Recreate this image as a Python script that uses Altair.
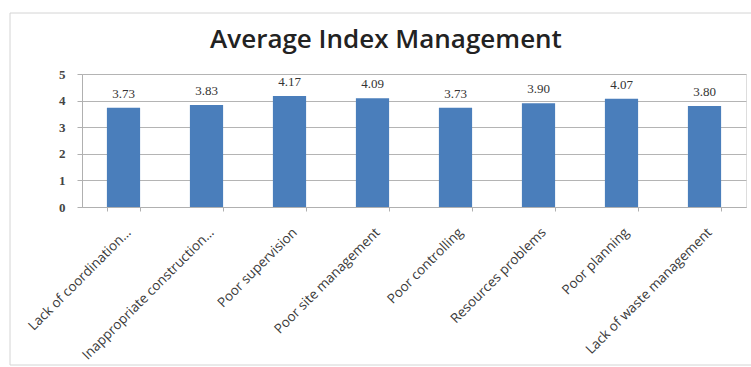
import altair as alt
import pandas as pd

categories = [
    "Lack of coordination…",
    "Inappropriate construction…",
    "Poor supervision",
    "Poor site management",
    "Poor controlling",
    "Resources problems",
    "Poor planning",
    "Lack of waste management",
]
values = [3.73, 3.83, 4.17, 4.09, 3.73, 3.90, 4.07, 3.80]
y_ticks = [0, 1, 2, 3, 4, 5]

df = pd.DataFrame({"cat": categories, "val": values})
df["lbl"] = [f"{v:.2f}" for v in values]

x_enc = alt.X(
    "cat:N",
    sort=categories,
    title=None,
    scale=alt.Scale(paddingInner=0.6, paddingOuter=0.3),
    axis=alt.Axis(
        labelAngle=-45,
        labelFont="Open Sans",
        labelFontSize=13.5,
        labelColor="#3a3a3a",
        labelLimit=260,
        tickBand="extent",
        domainColor="#b0b0b0",
        tickColor="#b0b0b0",
        tickSize=4,
        labelPadding=14,
    ),
)
y_enc = alt.Y(
    "val:Q",
    title=None,
    scale=alt.Scale(domain=[0, 5]),
    axis=alt.Axis(
        values=y_ticks,
        labelOverlap=False,
        labelFont="Liberation Serif",
        labelFontSize=13,
        labelFontWeight="bold",
        labelColor="#444444",
        domainColor="#b0b0b0",
        tickColor="#b0b0b0",
        gridColor="#b4b4b4",
        tickSize=5,
        labelPadding=12,
    ),
)

base = alt.Chart(df).encode(x=x_enc, y=y_enc)
bars = base.mark_bar(color="#4a7ebb")
text = base.mark_text(
    dy=-14, font="Liberation Serif", fontSize=13, color="#333333"
).encode(text="lbl:N")

frame = (
    alt.Chart(pd.DataFrame({"f": [0]}))
    .mark_rect(fill=None, stroke="#d4d4d4", strokeWidth=1)
    .encode(
        x=alt.value(-72),
        x2=alt.value(680),
        y=alt.value(-61),
        y2=alt.value(291),
    )
)

chart = (
    alt.layer(frame, bars, text)
    .properties(
        width=664,
        height=133,
        autosize=alt.AutoSizeParams(type="none"),
        padding={"left": 82, "top": 74, "right": 5, "bottom": 160},
        title=alt.Title(
            "Average Index Management",
            font="Open Sans",
            fontSize=26,
            fontWeight=600,
            color="#222222",
            offset=-40,
            dx=-28,
        ),
    )
    .configure_view(strokeOpacity=0)
    .configure(background="white")
)

chart.save("out.html", embed_options={"renderer": "svg", "actions": False})
